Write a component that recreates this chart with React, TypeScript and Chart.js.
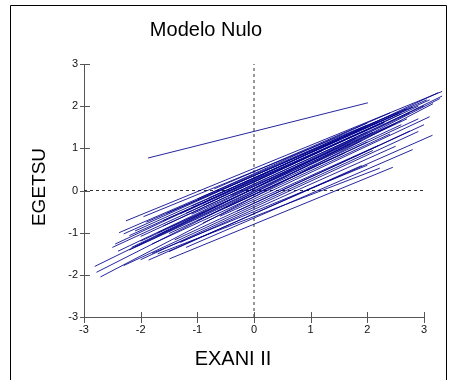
import React, { useEffect, useRef } from "react";
import { Chart, registerables } from "chart.js";

Chart.register(...registerables);

const chartTitle = "Modelo Nulo";
const xAxisTitle = "EXANI II";
const yAxisTitle = "EGETSU";
const axisMin = -3;
const axisMax = 3;
const tickStep = 1;

// One regression line per group: start point and end point
const lineStartX = [-2.81, -2.78, -2.71, -2.26, -2.45, -2.38, -2.16, -1.95, -1.54, -1.86, -1.49, -1.7, -2.0, -1.6, -2.2, -1.2, -1.8, -1.0, -2.4, -1.4, -0.8, -2.1, -1.7, -2.3, -1.3, -0.5, -1.9, -1.1, -2.5, -0.9, -1.5, -2.0, -1.7, -0.7, -2.2, -1.2, -0.6, -2.3, -1.6, -1.0, -1.8, -0.3, -1.3, -2.0, -0.9, -1.5, -2.1, -1.1, -0.4, -1.87];
const lineStartY = [-1.8, -1.94, -2.05, -0.72, -1.27, -1.0, -1.35, -0.62, -0.54, -1.65, -1.62, -1.5, -1.09, -0.71, -1.41, -0.54, -1.27, -0.2, -1.44, -1.17, -0.18, -0.96, -1.07, -1.78, -1.23, -0.41, -0.75, -0.56, -1.35, -0.77, -1.45, -1.64, -1.0, 0.04, -1.07, -1.35, -0.61, -1.03, -0.84, -0.72, -1.49, -0.49, -0.55, -1.2, -0.35, -1.02, -1.34, -0.37, -0.12, 0.77];
const lineEndX = [3.32, 3.28, 3.16, 3.32, 3.25, 3.05, 2.75, 2.69, 2.55, 3.15, 2.45, 2.22, 2.0, 2.3, 2.6, 2.9, 2.4, 2.0, 1.8, 3.0, 2.8, 1.5, 2.7, 2.1, 2.5, 2.9, 2.2, 2.6, 1.2, 3.1, 1.9, 2.9, 1.7, 2.4, 2.3, 2.8, 2.2, 2.0, 3.0, 1.6, 2.0, 2.75, 2.3, 2.5, 2.6, 2.0, 1.9, 3.1, 2.1, 2.01];
const lineEndY = [2.24, 2.18, 2.06, 2.35, 2.32, 2.15, 1.84, 1.93, 1.83, 1.31, 0.55, 0.53, 1.39, 1.63, 1.56, 2.0, 1.34, 1.6, 1.25, 1.56, 1.98, 1.2, 1.7, 0.95, 1.05, 1.7, 1.63, 1.66, 0.94, 1.75, 0.59, 1.4, 1.1, 1.84, 1.63, 0.97, 1.07, 1.55, 2.01, 0.89, 0.6, 1.41, 1.61, 1.59, 1.82, 1.15, 1.18, 2.15, 1.38, 2.08];

const FONT = "'Liberation Sans', Arial, sans-serif";

const decorPlugin = {
  id: "decor",
  beforeDraw(chart: any) {
    const ctx = chart.ctx;
    ctx.save();
    ctx.fillStyle = "#ffffff";
    ctx.fillRect(0, 0, chart.width, chart.height);
    ctx.strokeStyle = "#000000";
    ctx.lineWidth = 1;
    ctx.beginPath();
    ctx.moveTo(10.5, chart.height);
    ctx.lineTo(10.5, 5.5);
    ctx.lineTo(446.5, 5.5);
    ctx.lineTo(446.5, chart.height);
    ctx.stroke();
    ctx.restore();
  },
  afterDraw(chart: any) {
    const ctx = chart.ctx;
    const xs = chart.scales.x;
    const ys = chart.scales.y;
    const area = chart.chartArea;
    ctx.save();
    ctx.strokeStyle = "#555555";
    ctx.lineWidth = 1;
    ctx.beginPath();
    xs.ticks.forEach((t: any) => {
      const px = Math.round(xs.getPixelForValue(t.value)) + 0.5;
      ctx.moveTo(px, area.bottom - 5);
      ctx.lineTo(px, area.bottom + 6);
    });
    ys.ticks.forEach((t: any) => {
      const py = Math.round(ys.getPixelForValue(t.value)) + 0.5;
      ctx.moveTo(area.left - 4, py);
      ctx.lineTo(area.left + 6, py);
    });
    ctx.stroke();

    ctx.fillStyle = "#000000";
    ctx.textAlign = "center";
    ctx.textBaseline = "middle";
    ctx.font = "20px " + FONT;
    ctx.fillText(chartTitle, 206, 30);
    ctx.fillText(xAxisTitle, 233, 359);
    ctx.save();
    ctx.translate(40, 187);
    ctx.rotate(-Math.PI / 2);
    ctx.font = "19px " + FONT;
    ctx.fillText(yAxisTitle, 0, 0);
    ctx.restore();
    ctx.restore();
  },
};

export default function App() {
  const ref = useRef<HTMLCanvasElement | null>(null);

  useEffect(() => {
    if (!ref.current) return;
    const datasets: any[] = lineStartX.map((x0, i) => ({
      data: [
        { x: x0, y: lineStartY[i] },
        { x: lineEndX[i], y: lineEndY[i] },
      ],
      showLine: true,
      borderColor: "rgba(0,0,140,0.85)",
      borderWidth: 1,
      pointRadius: 0,
      clip: false,
      order: 1,
    }));
    datasets.push({
      data: [
        { x: 0, y: axisMin },
        { x: 0, y: axisMax },
      ],
      showLine: true,
      borderColor: "#333333",
      borderWidth: 1,
      borderDash: [3, 3],
      pointRadius: 0,
      order: 2,
    });
    datasets.push({
      data: [
        { x: axisMin, y: 0 },
        { x: axisMax, y: 0 },
      ],
      showLine: true,
      borderColor: "#333333",
      borderWidth: 1,
      borderDash: [3, 3],
      pointRadius: 0,
      order: 2,
    });

    const chart = new Chart(ref.current, {
      type: "scatter",
      data: { datasets },
      options: {
        animation: false,
        responsive: false,
        layout: { padding: { left: 0, top: 64, right: 25, bottom: 0 } },
        plugins: {
          legend: { display: false },
          title: { display: false },
          tooltip: { enabled: false },
        },
        scales: {
          x: {
            type: "linear",
            min: axisMin,
            max: axisMax,
            grid: { display: false, drawTicks: false },
            border: { display: true, color: "#555555", width: 1 },
            ticks: {
              stepSize: tickStep,
              color: "#111111",
              font: { family: FONT, size: 11 },
              padding: 6,
              maxRotation: 0,
            },
            afterFit(scale: any) {
              scale.height = 63;
            },
          },
          y: {
            type: "linear",
            min: axisMin,
            max: axisMax,
            grid: { display: false, drawTicks: false },
            border: { display: true, color: "#555555", width: 1 },
            ticks: {
              stepSize: tickStep,
              color: "#111111",
              font: { family: FONT, size: 11 },
              padding: 6,
            },
            afterFit(scale: any) {
              scale.width = 84;
            },
          },
        },
      },
      plugins: [decorPlugin],
    });
    return () => chart.destroy();
  }, []);

  return (
    <div style={{ position: "fixed", left: 0, top: 0, width: 449, height: 380 }}>
      <canvas ref={ref} width={449} height={380} style={{ display: "block" }} />
    </div>
  );
}
